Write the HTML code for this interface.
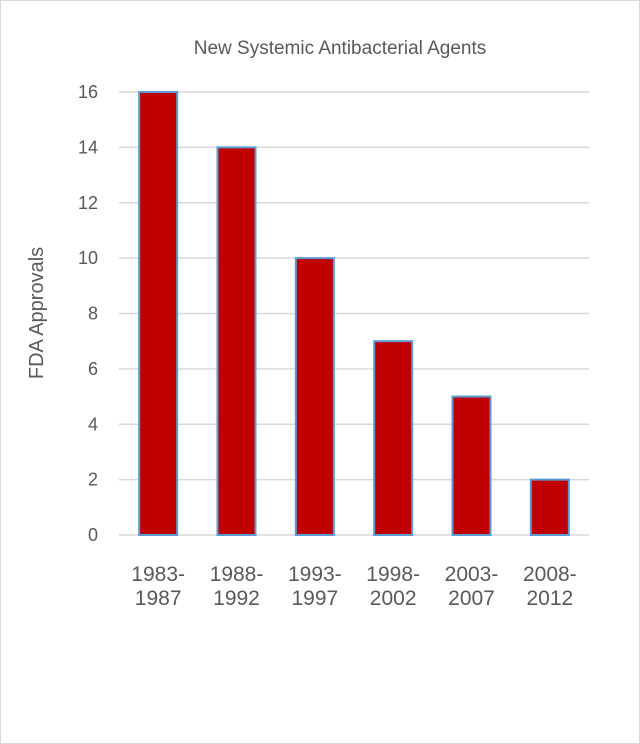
<!DOCTYPE html>
<html><head><meta charset="utf-8"><style>
body{margin:0;background:#fff;}
svg{display:block;font-family:"Liberation Sans",sans-serif;}
</style></head><body>
<svg id="chart" width="640" height="744">
<rect x="0.5" y="0.5" width="639" height="743" fill="#fff" stroke="#d9d9d9"/>
<text x="340" y="54" text-anchor="middle" font-size="19" fill="#595959">New Systemic Antibacterial Agents</text>
<text transform="translate(43,313) rotate(-90)" text-anchor="middle" font-size="20" fill="#595959">FDA Approvals</text>
<g id="grid"></g><g id="bars"></g><g id="ylabels"></g><g id="xlabels"></g>
</svg>
<script>
const categories=[["1983-","1987"],["1988-","1992"],["1993-","1997"],["1998-","2002"],["2003-","2007"],["2008-","2012"]];
const values=[16,14,10,7,5,2];
const yTicks=[0,2,4,6,8,10,12,14,16];
const NS="http://www.w3.org/2000/svg";
const L=119,R=589,Y0=535,Y16=92,yMax=16;
const y=v=>Y0-(Y0-Y16)*v/yMax;
const step=(R-L)/categories.length;
const xc=i=>L+step*(i+0.5);
function mk(t,a,p){const e=document.createElementNS(NS,t);for(const k in a)e.setAttribute(k,a[k]);p.appendChild(e);return e;}
const g=document.getElementById('grid'),b=document.getElementById('bars'),yl=document.getElementById('ylabels'),xl=document.getElementById('xlabels');
yTicks.forEach(v=>{
 const l=mk('line',{x1:L,x2:R,y1:y(v),y2:y(v),stroke:'#d9d9d9','stroke-width':1.5},g);
 
 
 const t=mk('text',{x:98,y:y(v)+6,'text-anchor':'end','font-size':18,fill:'#595959'},yl);
 t.textContent=v;
 
 
});
values.forEach((v,i)=>{
 const w=38;
 const r=mk('rect',{x:xc(i)-w/2,y:y(v),width:w,height:Y0-y(v),fill:'#c00000',stroke:'#5b9bd5','stroke-width':2},b);
 
 
 const t=mk('text',{x:xc(i),y:581,'text-anchor':'middle','font-size':21,fill:'#595959'},xl);
 
 
 categories[i].forEach((s,j)=>{const ts=mk('tspan',{x:xc(i),dy:j?24:0},t);ts.textContent=s;});
});
</script>
</body></html>
